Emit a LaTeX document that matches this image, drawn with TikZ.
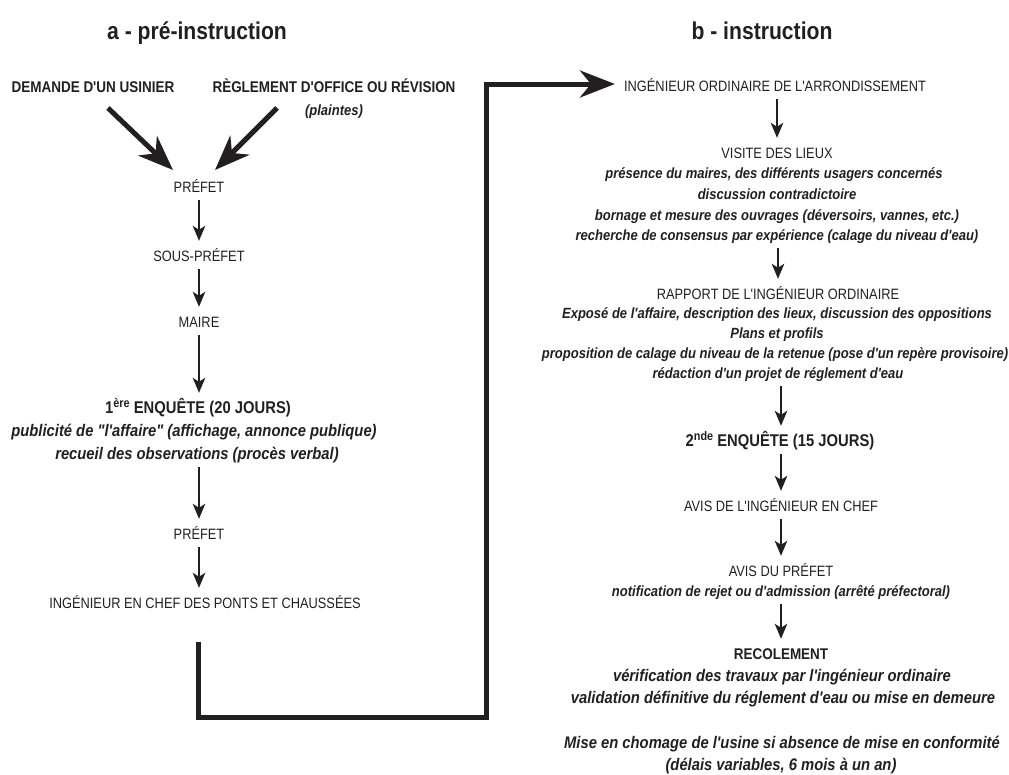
\documentclass[tikz,border=0pt]{standalone}
\usepackage{fontspec}
\usetikzlibrary{arrows.meta}
\newfontfamily\fr{Liberation Sans}[FakeStretch=0.855]
\newfontfamily\fb{Liberation Sans}[FakeStretch=0.87]
\newfontfamily\fbi{Liberation Sans}[FakeStretch=0.88]
\definecolor{ink}{RGB}{35,31,32}
\tikzset{
  txt/.style={inner sep=0pt, anchor=base, text=ink, text height=11pt, text depth=3pt},
  reg/.style={txt, font=\fr\fontsize{15}{17}\selectfont},
  hdr/.style={txt, font=\fb\bfseries\fontsize{15.5}{18}\selectfont},
  enq/.style={txt, font=\fb\bfseries\fontsize{17}{19}\selectfont},
  bi/.style={txt, font=\fbi\bfseries\itshape\fontsize{14.8}{17}\selectfont},
  bib/.style={txt, font=\fbi\bfseries\itshape\fontsize{16.8}{19}\selectfont},
  ttl/.style={inner sep=0pt, anchor=base, text=ink, font=\fb\bfseries\fontsize{24.3}{28}\selectfont},
  arr/.style={draw=ink, line width=2pt, -{Stealth[length=15pt,width=12.5pt,inset=4pt]}, shorten <=5pt, shorten >=9pt},
  big/.style={draw=ink, line width=5pt, -{Stealth[length=35pt,width=27pt,inset=11pt]}},
}
\newcommand{\supx}[1]{\raisebox{6pt}{\fontsize{12.5}{12.5}\selectfont #1}}
\begin{document}
\begin{tikzpicture}[x=1pt,y=-1pt]
\useasboundingbox (0,0) rectangle (1009,774);
% ---------- left column ----------
\node[ttl] (ta) at (197,39) {a - pré-instruction};
\node[hdr] (dem) at (93,92) {DEMANDE D'UN USINIER};
\node[hdr] (regl) at (334,92) {RÈGLEMENT D'OFFICE OU RÉVISION};
\node[bi] (pla) at (334,115) {(plaintes)};
\node[reg] (pre1) at (199,192) {PRÉFET};
\node[reg] (spre) at (199,261) {SOUS-PRÉFET};
\node[reg] (mai) at (199,327) {MAIRE};
\node[enq] (enq1) at (198,413) {1\supx{ère} ENQUÊTE (20 JOURS)};
\node[bib] (enq1a) at (194,436) {publicité de "l'affaire" (affichage, annonce publique)};
\node[bib] (enq1b) at (197,459) {recueil des observations (procès verbal)};
\node[reg] (pre2) at (199,539) {PRÉFET};
\node[reg] (ingc) at (205,608) {INGÉNIEUR EN CHEF DES PONTS ET CHAUSSÉES};
% ---------- right column ----------
\node[ttl] (tb) at (762,39) {b - instruction};
\node[reg] (ingo) at (775,91) {INGÉNIEUR ORDINAIRE DE L'ARRONDISSEMENT};
\node[reg] (vis) at (777,158) {VISITE DES LIEUX};
\node[bi] (vis1) at (774,178) {présence du maires, des différents usagers concernés};
\node[bi] (vis2) at (777,199) {discussion contradictoire};
\node[bi] (vis3) at (777,220) {bornage et mesure des ouvrages (déversoirs, vannes, etc.)};
\node[bi] (vis4) at (777,240) {recherche de consensus par expérience (calage du niveau d'eau)};
\node[reg] (rap) at (778,299) {RAPPORT DE L'INGÉNIEUR ORDINAIRE};
\node[bi] (rap1) at (777,318) {Exposé de l'affaire, description des lieux, discussion des oppositions};
\node[bi] (rap2) at (777,338) {Plans et profils};
\node[bi] (rap3) at (775,358) {proposition de calage du niveau de la retenue (pose d'un repère provisoire)};
\node[bi] (rap4) at (778,378) {rédaction d'un projet de réglement d'eau};
\node[enq] (enq2) at (780,446) {2\supx{nde} ENQUÊTE (15 JOURS)};
\node[reg] (avi) at (781,511) {AVIS DE L'INGÉNIEUR EN CHEF};
\node[reg] (avp) at (781,576) {AVIS DU PRÉFET};
\node[bi] (avp1) at (781,596) {notification de rejet ou d'admission (arrêté préfectoral)};
\node[hdr] (rec) at (781,659) {RECOLEMENT};
\node[bib] (rec1) at (782,681) {vérification des travaux par l'ingénieur ordinaire};
\node[bib] (rec2) at (783,703) {validation définitive du réglement d'eau ou mise en demeure};
\node[bib] (mis1) at (782,748) {Mise en chomage de l'usine si absence de mise en conformité};
\node[bib] (mis2) at (781,770) {(délais variables, 6 mois à un an)};
% ---------- thin arrows ----------
\draw[arr] (pre1) -- (spre);
\draw[arr] (spre) -- (mai);
\draw[arr] (mai) -- (enq1.north -| mai);
\draw[arr] (enq1b.south -| pre2) -- (pre2);
\draw[arr] (pre2) -- (pre2 |- ingc.north);
\draw[arr] (ingo.south -| vis) -- (vis);
\draw[arr] (vis4.south -| rap) -- (rap);
\draw[arr] (rap4.south -| avi) -- (enq2.north -| avi);
\draw[arr] (enq2.south -| avi) -- (avi);
\draw[arr] (avi) -- (avp);
\draw[arr] (avp1.south -| avp) -- (avp |- rec.north);
% ---------- thick arrows ----------
\coordinate (d1) at (108,108);
\coordinate (t1) at (173,170);
\coordinate (d2) at (277,108);
\coordinate (t2) at (215,170);
\draw[big] (d1) -- (t1);
\draw[big] (d2) -- (t2);
\coordinate (c1) at (198,717);
\coordinate (c2) at (486,717);
\coordinate (c3) at (486,84);
\draw[big, shorten <=31pt, shorten >=9pt] (ingc.south -| c1) -- (c1) -- (c2) -- (c3) -- (ingo.west |- c3);
\end{tikzpicture}
\end{document}
